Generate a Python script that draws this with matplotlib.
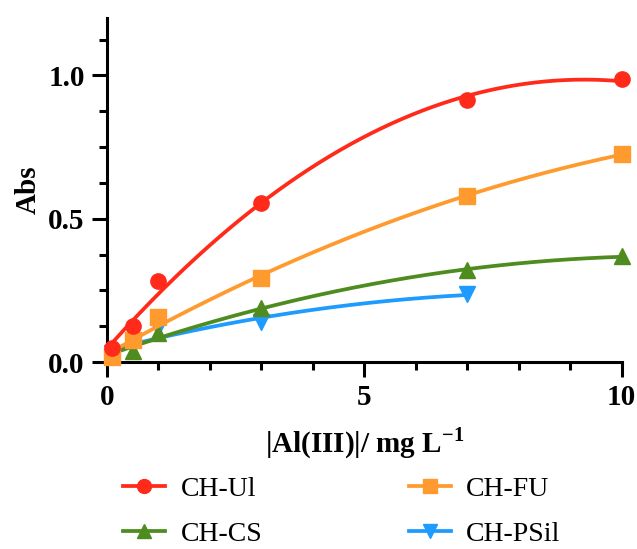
import numpy as np
import matplotlib
matplotlib.use("Agg")
import matplotlib.pyplot as plt
from matplotlib.ticker import MultipleLocator

plt.rcParams['font.family'] = ['Liberation Serif', 'DejaVu Serif']
plt.rcParams['mathtext.fontset'] = 'custom'
plt.rcParams['mathtext.rm'] = 'Liberation Serif'
plt.rcParams['mathtext.bf'] = 'Liberation Serif:bold'

# Data
x_ul = [0.1, 0.5, 1, 3, 7, 10]
y_ul = [0.050, 0.125, 0.282, 0.556, 0.915, 0.986]
x_fu = [0.1, 0.5, 1, 3, 7, 10]
y_fu = [0.016, 0.077, 0.158, 0.294, 0.578, 0.726]
x_cs = [0.1, 0.5, 1, 3, 7, 10]
y_cs = [0.030, 0.039, 0.100, 0.187, 0.320, 0.369]
x_ps = [0.1, 0.5, 1, 3, 7]
y_ps = [0.030, 0.055, 0.118, 0.140, 0.236]

labels = ["CH-Ul", "CH-FU", "CH-CS", "CH-PSil"]
colors = ["#ff2a1a", "#ff9a2e", "#4e8c1f", "#1e9bff"]
markers = ["o", "s", "^", "v"]

fig = plt.figure(figsize=(6.37, 5.49), dpi=100)
ax = fig.add_axes([0.168, 0.3406, 0.808, 0.6264])

series = [(x_ul, y_ul), (x_fu, y_fu), (x_cs, y_cs), (x_ps, y_ps)]
handles = []
for k, ((xs, ys), lab, c, m) in enumerate(zip(series, labels, colors, markers)):
    z = 10 - 2 * k
    # second order polynomial fit, like the original curves
    coef = np.polyfit(xs, ys, 2)
    xf = np.linspace(min(xs), max(xs), 200)
    ax.plot(xf, np.polyval(coef, xf), color=c, lw=2.7, zorder=z)
    ax.plot(xs, ys, linestyle="none", marker=m, color=c, ms=11, zorder=z + 1, clip_on=False)
    h, = ax.plot([], [], color=c, marker=m, ms=10, lw=2.7, label=lab)
    handles.append(h)

ax.set_xlim(0, 10)
ax.set_ylim(0, 1.2)
ax.xaxis.set_major_locator(MultipleLocator(5))
ax.xaxis.set_minor_locator(MultipleLocator(1))
ax.set_yticks([0, 0.5, 1.0])
ax.set_yticklabels(["0.0", "0.5", "1.0"])
ax.yaxis.set_minor_locator(MultipleLocator(0.125))

for s in ["top", "right"]:
    ax.spines[s].set_visible(False)
for s in ["left", "bottom"]:
    ax.spines[s].set_linewidth(2.2)

ax.tick_params(which="major", length=11, width=2.2, direction="out", pad=5,
               labelsize=21)
ax.tick_params(which="minor", length=6, width=2.2, direction="out")
for t in ax.get_xticklabels() + ax.get_yticklabels():
    t.set_fontweight("bold")

ax.set_ylabel("Abs", fontsize=21, fontweight="bold", labelpad=5)
ax.set_xlabel(r"|Al(III)|/ mg L$^{\mathbf{-1}}$", fontsize=21, fontweight="bold", labelpad=10)

order = [0, 2, 1, 3]
fig.legend([handles[i] for i in order], [labels[i] for i in order], ncol=2,
           loc="center", bbox_to_anchor=(0.537, 0.068), frameon=False,
           fontsize=20, handlelength=1.5, columnspacing=5.3, labelspacing=0.72,
           handletextpad=0.55)

fig.savefig("out.png", dpi=100)
